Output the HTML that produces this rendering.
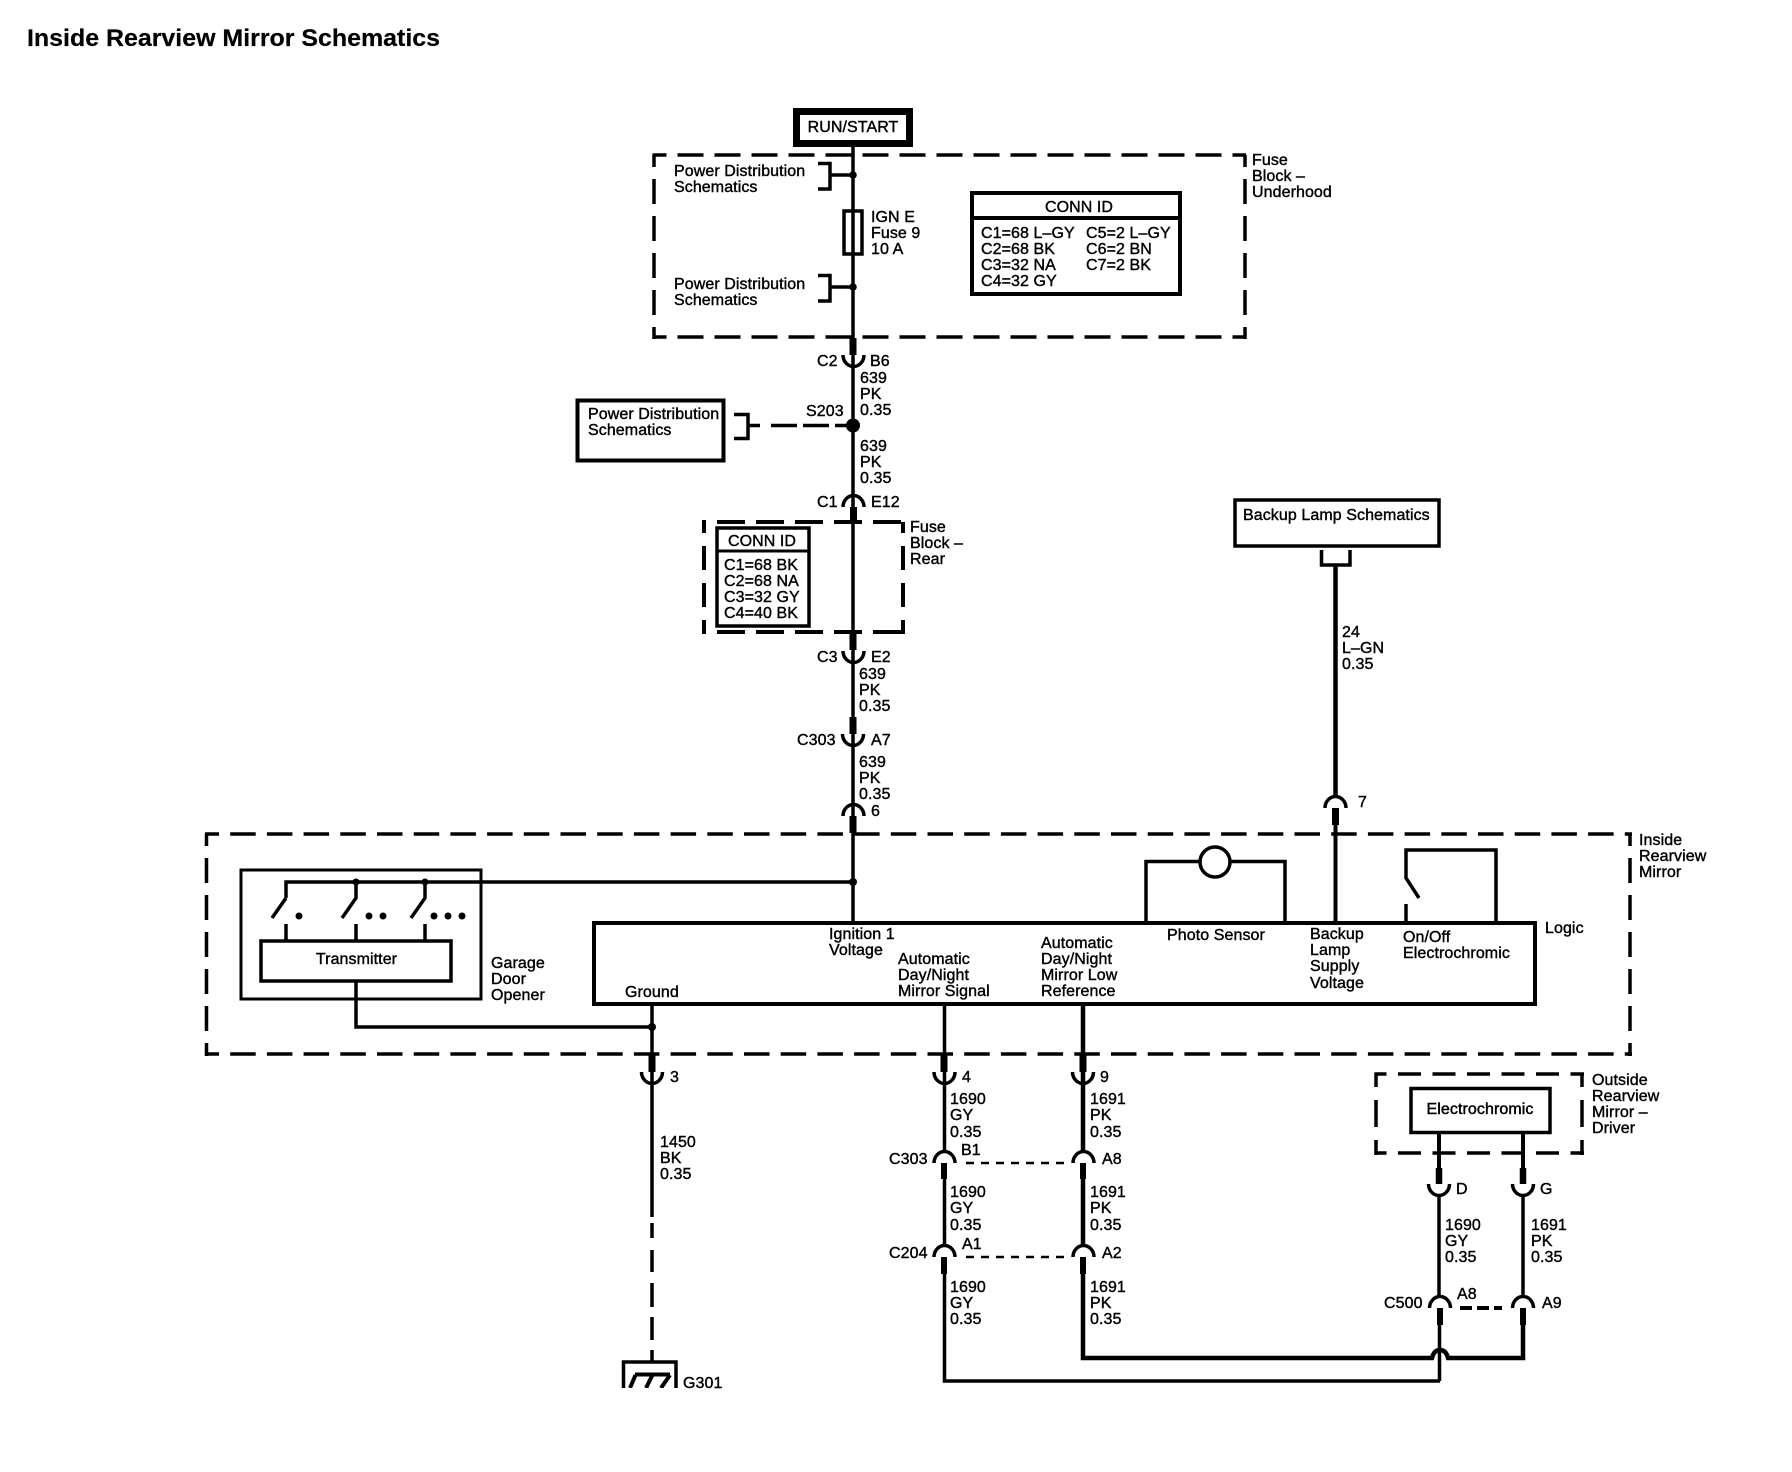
<!DOCTYPE html>
<html><head><meta charset="utf-8"><title>Inside Rearview Mirror Schematics</title>
<style>
html,body{margin:0;padding:0;background:#fff}
svg{display:block}
text{font-family:"Liberation Sans",sans-serif;font-size:16px;fill:#000;stroke:#000;stroke-width:.4;letter-spacing:.08px;transform:translateY(-1px)}
.t{font-size:24px;font-weight:bold;stroke-width:.2;letter-spacing:0;transform:none}
.m{text-anchor:middle}
path,line,rect,ellipse{fill:none;stroke:#000}
.dot{fill:#000;stroke:none}
</style></head><body>
<svg width="1792" height="1472" viewBox="0 0 1792 1472" xmlns="http://www.w3.org/2000/svg">
<rect class="dot" style="fill:#fff" width="1792" height="1472"/>
<text class="t" x="27" y="46" textLength="413" lengthAdjust="spacingAndGlyphs">Inside Rearview Mirror Schematics</text>

<!-- RUN/START -->
<rect x="796.5" y="111.5" width="113" height="32" stroke-width="7"/>
<text class="m" x="853" y="133">RUN/START</text>

<!-- Underhood dashed -->
<g stroke-width="3.5" stroke-dasharray="26 11" stroke-dashoffset="12">
<path d="M652.5 155H1246"/><path d="M652.5 337H1246"/>
</g>
<g stroke-width="3.5" stroke-dasharray="25 12" stroke-dashoffset="13">
<path d="M654 155V339"/><path d="M1245 155V339"/>
</g>
<text x="1252" y="166">Fuse</text><text x="1252" y="182">Block –</text><text x="1252" y="198">Underhood</text>

<!-- main wire -->
<path d="M853 147V922" stroke-width="3.5"/>
<!-- brackets -->
<path d="M818 163.5H830V189H818M830 175H853M818 275.5H830V301H818M830 287H853" stroke-width="3.5"/>
<circle class="dot" cx="853" cy="175" r="3.8"/><circle class="dot" cx="853" cy="287" r="3.8"/>
<text x="674" y="177">Power Distribution</text><text x="674" y="193">Schematics</text>
<text x="674" y="290">Power Distribution</text><text x="674" y="306">Schematics</text>
<!-- fuse -->
<rect x="844" y="211" width="18" height="43" stroke-width="3.5"/>
<text x="871" y="223">IGN E</text><text x="871" y="239">Fuse 9</text><text x="871" y="255">10 A</text>

<!-- CONN ID underhood -->
<rect x="972" y="193" width="208" height="101" stroke-width="4"/>
<path d="M972 218H1180" stroke-width="4"/>
<text class="m" x="1079" y="213">CONN ID</text>
<text x="981" y="239">C1=68 L–GY</text><text x="1086" y="239">C5=2 L–GY</text>
<text x="981" y="255">C2=68 BK</text><text x="1086" y="255">C6=2 BN</text>
<text x="981" y="271">C3=32 NA</text><text x="1086" y="271">C7=2 BK</text>
<text x="981" y="287">C4=32 GY</text>

<!-- C2 -->
<path d="M853 338V355" stroke-width="7"/>
<path d="M843 355a10.500 11.500 0 0 0 21 0" stroke-width="3.500"/>
<text x="817" y="367">C2</text><text x="870" y="367">B6</text>
<text x="860" y="384">639</text><text x="860" y="400">PK</text><text x="860" y="416">0.35</text>

<!-- S203 -->
<circle class="dot" cx="853" cy="425.500" r="7"/>
<text x="806" y="417">S203</text>
<rect x="577.500" y="400.500" width="146" height="60" stroke-width="4"/>
<text x="588" y="420">Power Distribution</text><text x="588" y="436">Schematics</text>
<path d="M734 414.500H748V438.500H734M748 425.500H760" stroke-width="3.500"/>
<path d="M771 425.500H797M803 425.500H829M835 425.500H850" stroke-width="3.500"/>
<text x="860" y="452">639</text><text x="860" y="468">PK</text><text x="860" y="484">0.35</text>

<!-- C1 -->
<path d="M843 507a10.500 11.500 0 0 1 21 0" stroke-width="3.500"/>
<path d="M853.500 507V523" stroke-width="7"/>
<text x="817" y="508">C1</text><text x="871" y="508">E12</text>

<!-- Rear dashed -->
<g stroke-width="4" stroke-dasharray="28 11" stroke-dashoffset="24">
<path d="M702 522H905"/><path d="M702 632H905"/>
</g>
<g stroke-width="4" stroke-dasharray="24 13" stroke-dashoffset="13">
<path d="M704 522V634"/><path d="M903 522V634"/>
</g>
<text x="910" y="533">Fuse</text><text x="910" y="549">Block –</text><text x="910" y="565">Rear</text>
<rect x="717" y="528" width="92" height="98" stroke-width="3.500"/>
<path d="M717.500 551H808.500" stroke-width="3"/>
<text class="m" x="762" y="547">CONN ID</text>
<text x="724" y="571">C1=68 BK</text><text x="724" y="587">C2=68 NA</text><text x="724" y="603">C3=32 GY</text><text x="724" y="619">C4=40 BK</text>

<!-- C3 -->
<path d="M853 632V650" stroke-width="7"/>
<path d="M843 651a10.500 11.500 0 0 0 21 0" stroke-width="3.500"/>
<text x="817" y="663">C3</text><text x="871" y="663">E2</text>
<text x="859" y="680">639</text><text x="859" y="696">PK</text><text x="859" y="712">0.35</text>
<!-- C303 A7 -->
<path d="M853 717V734" stroke-width="7"/>
<path d="M842.500 734a10.500 11.500 0 0 0 21 0" stroke-width="3.500"/>
<text x="797" y="746">C303</text><text x="871" y="746">A7</text>
<text x="859" y="768">639</text><text x="859" y="784">PK</text><text x="859" y="800">0.35</text>
<!-- 6 -->
<path d="M843 816a10.500 11.500 0 0 1 21 0" stroke-width="3.500"/>
<path d="M853 816V833" stroke-width="7"/>
<text x="871" y="817">6</text>

<!-- Inside mirror dashed -->
<g stroke-width="3.500" stroke-dasharray="25.500 11.200" stroke-dashoffset="11.500">
<path d="M205 834H1632"/><path d="M205 1054H1632"/>
</g>
<g stroke-width="3.500" stroke-dasharray="25 12" stroke-dashoffset="13">
<path d="M206.500 834V1056"/><path d="M1630 834V1056"/>
</g>
<text x="1639" y="846">Inside</text><text x="1639" y="862">Rearview</text><text x="1639" y="878">Mirror</text>

<!-- Garage door opener -->
<rect x="241" y="870" width="240" height="129" stroke-width="3"/>
<path d="M286 898V882H853" stroke-width="3.500"/>
<circle class="dot" cx="853" cy="882" r="4"/>
<circle class="dot" cx="356" cy="882" r="3.500"/><circle class="dot" cx="425" cy="882" r="3.500"/>
<path d="M286 898L272 918M356 882V898L342 918M425 882V898L411 918" stroke-width="3.500"/>
<path d="M286 924V940M356 924V940M425 924V940" stroke-width="3.500"/>
<circle class="dot" cx="299" cy="916" r="3.500"/>
<circle class="dot" cx="369" cy="916" r="3.500"/><circle class="dot" cx="383" cy="916" r="3.500"/>
<circle class="dot" cx="434" cy="916" r="3.500"/><circle class="dot" cx="448" cy="916" r="3.500"/><circle class="dot" cx="462" cy="916" r="3.500"/>
<rect x="261" y="941" width="190" height="40" stroke-width="3.500"/>
<text class="m" x="356.500" y="965">Transmitter</text>
<text x="491" y="969">Garage</text><text x="491" y="985">Door</text><text x="491" y="1001">Opener</text>
<path d="M356 981V1027H652" stroke-width="3.500"/>
<circle class="dot" cx="652" cy="1027" r="4"/>

<!-- Logic box -->
<rect x="594" y="923" width="941" height="81" stroke-width="4"/>
<text x="1545" y="934">Logic</text>
<text x="829" y="940">Ignition 1</text><text x="829" y="956">Voltage</text>
<text x="898" y="965">Automatic</text><text x="898" y="981">Day/Night</text><text x="898" y="997">Mirror Signal</text>
<text x="625" y="998">Ground</text>
<text x="1041" y="949">Automatic</text><text x="1041" y="965">Day/Night</text><text x="1041" y="981">Mirror Low</text><text x="1041" y="997">Reference</text>
<text x="1167" y="941">Photo Sensor</text>
<text x="1310" y="940">Backup</text><text x="1310" y="956">Lamp</text><text x="1310" y="972">Supply</text><text x="1310" y="989">Voltage</text>
<text x="1403" y="943">On/Off</text><text x="1403" y="959">Electrochromic</text>

<!-- photo sensor -->
<path d="M1146 922V861.500H1199M1230 861.500H1285V922" stroke-width="3.500"/>
<ellipse cx="1215" cy="862" rx="15" ry="15" stroke-width="3.500"/>
<!-- on/off switch -->
<path d="M1419 898L1406 878V850H1496V922M1406 904V922" stroke-width="3.500"/>

<!-- Backup lamp -->
<rect x="1235" y="500" width="204" height="46" stroke-width="3.500"/>
<text x="1243" y="521">Backup Lamp Schematics</text>
<path d="M1321.500 550V565H1350V550" stroke-width="3.500"/>
<path d="M1335.500 565V797" stroke-width="4.500"/>
<text x="1342" y="638">24</text><text x="1342" y="654">L–GN</text><text x="1342" y="670">0.35</text>
<path d="M1325 808a10.500 11.500 0 0 1 21 0" stroke-width="3.500"/>
<path d="M1335.500 808V825" stroke-width="7"/>
<path d="M1335.500 825V922" stroke-width="4"/>
<text x="1358" y="808">7</text>

<!-- Ground wire -->
<path d="M652 1004V1217" stroke-width="3.500"/>
<path d="M652 1223V1238M652 1250V1272M652 1283V1307M652 1317V1340M652 1350V1362" stroke-width="3.500"/>
<path d="M652 1055V1072" stroke-width="7"/>
<path d="M641.500 1072a10.500 11.500 0 0 0 21 0" stroke-width="3.500"/>
<text x="670" y="1083">3</text>
<text x="660" y="1148">1450</text><text x="660" y="1164">BK</text><text x="660" y="1180">0.35</text>
<path d="M623.500 1388V1362H676V1388" stroke-width="3.500"/>
<path d="M635 1374.500H670M635.500 1375L630 1388M652.500 1375L646 1388M670 1375L661 1388" stroke-width="4"/>
<rect class="dot" style="fill:#fff" x="610" y="1388" width="90" height="10"/>
<text x="683" y="1389">G301</text>

<!-- Wire 1690 -->
<path d="M944.500 1004V1153" stroke-width="3.500"/>
<path d="M944.500 1179V1247" stroke-width="3.500"/>
<path d="M944.500 1274V1381H1440" stroke-width="3.500"/>
<path d="M944 1055V1072" stroke-width="7"/>
<path d="M934 1072a10.500 11.500 0 0 0 21 0" stroke-width="3.500"/>
<text x="962" y="1083">4</text>
<text x="950" y="1105">1690</text><text x="950" y="1121">GY</text><text x="950" y="1138">0.35</text>
<path d="M934 1163a10.500 11.500 0 0 1 21 0" stroke-width="3.500"/>
<path d="M944 1163V1179" stroke-width="6"/>
<text x="889" y="1165">C303</text><text x="961" y="1156">B1</text>
<text x="950" y="1198">1690</text><text x="950" y="1214">GY</text><text x="950" y="1231">0.35</text>
<path d="M934 1257a10.500 11.500 0 0 1 21 0" stroke-width="3.500"/>
<path d="M944 1257V1274" stroke-width="6"/>
<text x="889" y="1259">C204</text><text x="962" y="1250">A1</text>
<text x="950" y="1293">1690</text><text x="950" y="1309">GY</text><text x="950" y="1325">0.35</text>

<!-- Wire 1691 -->
<path d="M1083 1004V1153" stroke-width="4.500"/>
<path d="M1083 1179V1247" stroke-width="4.500"/>
<path d="M1083 1274V1358H1432Q1434 1350 1440 1350Q1446 1350 1448 1358H1523V1308" stroke-width="4.500"/>
<path d="M1083 1055V1072" stroke-width="7"/>
<path d="M1072.500 1072a10.500 11.500 0 0 0 21 0" stroke-width="3.500"/>
<text x="1100" y="1083">9</text>
<text x="1090" y="1105">1691</text><text x="1090" y="1121">PK</text><text x="1090" y="1138">0.35</text>
<path d="M1073 1163a10.500 11.500 0 0 1 21 0" stroke-width="3.500"/>
<path d="M1083 1163V1179" stroke-width="6"/>
<text x="1102" y="1165">A8</text>
<text x="1090" y="1198">1691</text><text x="1090" y="1214">PK</text><text x="1090" y="1231">0.35</text>
<path d="M1073 1257a10.500 11.500 0 0 1 21 0" stroke-width="3.500"/>
<path d="M1083 1257V1274" stroke-width="6"/>
<text x="1102" y="1259">A2</text>
<text x="1090" y="1293">1691</text><text x="1090" y="1309">PK</text><text x="1090" y="1325">0.35</text>
<path d="M966 1163H1070M966 1257H1070" stroke-width="2.500" stroke-dasharray="8 7"/>

<!-- Outside mirror -->
<g stroke-width="3.500" stroke-dasharray="23 11.500" stroke-dashoffset="11">
<path d="M1374.500 1074H1584"/><path d="M1374.500 1153H1584"/>
</g>
<g stroke-width="3.500" stroke-dasharray="27 13" stroke-dashoffset="13">
<path d="M1376 1073V1155"/><path d="M1582 1073V1155"/>
</g>
<text x="1592" y="1086">Outside</text><text x="1592" y="1102">Rearview</text><text x="1592" y="1118">Mirror –</text><text x="1592" y="1134">Driver</text>
<rect x="1411" y="1088.500" width="139" height="44" stroke-width="3.500"/>
<text class="m" x="1480" y="1115" style="stroke-width:.45">Electrochromic</text>
<path d="M1439 1133V1168M1523 1133V1168" stroke-width="4"/>
<path d="M1439 1168V1184M1523 1168V1184" stroke-width="6.500"/>
<path d="M1428.500 1184a10.500 11.500 0 0 0 21 0M1512.500 1184a10.500 11.500 0 0 0 21 0" stroke-width="3.500"/>
<text x="1456" y="1195">D</text><text x="1540" y="1195">G</text>
<path d="M1439 1195V1296M1523 1195V1297" stroke-width="3.500"/>
<text x="1445" y="1231">1690</text><text x="1445" y="1247">GY</text><text x="1445" y="1263">0.35</text>
<text x="1531" y="1231">1691</text><text x="1531" y="1247">PK</text><text x="1531" y="1263">0.35</text>
<path d="M1429.500 1308a10.500 11.500 0 0 1 21 0M1512.500 1308a10.500 11.500 0 0 1 21 0" stroke-width="3.500"/>
<path d="M1440 1308V1325M1523 1308V1325" stroke-width="6"/>
<path d="M1439.500 1325V1381" stroke-width="3.500"/>
<text x="1384" y="1309">C500</text><text x="1457" y="1300">A8</text><text x="1542" y="1309">A9</text>
<path d="M1460 1308H1472M1477 1308H1489M1494 1308H1502" stroke-width="4"/>
</svg>
</body></html>
